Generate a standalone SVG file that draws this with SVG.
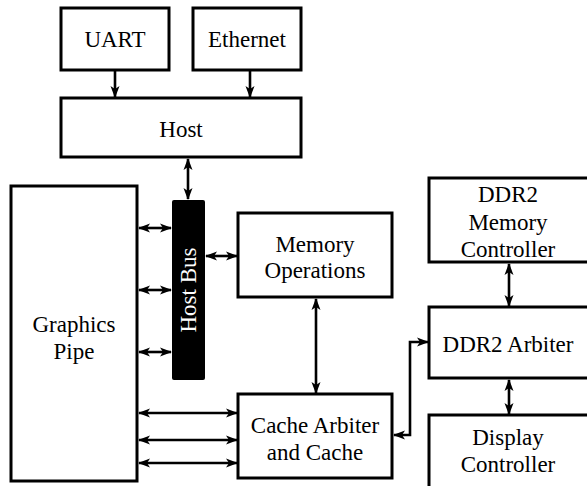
<svg xmlns="http://www.w3.org/2000/svg" width="587" height="486" viewBox="0 0 587 486">
<defs>
<marker id="ah" viewBox="0 0 12 10" refX="11" refY="5" markerWidth="12" markerHeight="10" markerUnits="userSpaceOnUse" orient="auto-start-reverse">
<path d="M0,0.5 L12,5 L0,9.5 L3,5 Z" fill="#000"/>
</marker>
<style>
.box{fill:#fff;stroke:#000;stroke-width:3}
text{font-family:'Liberation Serif','Times New Roman',serif;font-size:23px;fill:#000;text-anchor:middle}
.c{fill:none;stroke:#000;stroke-width:2.6;marker-start:url(#ah);marker-end:url(#ah)}
.c1{fill:none;stroke:#000;stroke-width:2.6;marker-end:url(#ah)}
</style>
</defs>
<rect width="587" height="486" fill="#fff"/>
<g id="uart"><rect class="box" x="61" y="8" width="108" height="62"/><text x="115" y="47">UART</text></g>
<g id="ethernet"><rect class="box" x="193" y="8" width="108" height="62"/><text x="247" y="47">Ethernet</text></g>
<g id="host"><rect class="box" x="61" y="98" width="240" height="59"/><text x="181" y="137">Host</text></g>
<g id="graphics-pipe"><rect class="box" x="11" y="186" width="126" height="295"/><text x="74" y="332">Graphics</text><text x="74" y="359">Pipe</text></g>
<g id="host-bus"><rect x="172" y="200" width="33" height="180" rx="2" fill="#000"/><text x="196" y="290" style="fill:#fff" transform="rotate(-90 196 290)">Host Bus</text></g>
<g id="memory-operations"><rect class="box" x="238" y="213" width="154" height="84"/><text x="315" y="252">Memory</text><text x="315" y="278">Operations</text></g>
<g id="cache"><rect class="box" x="238" y="394" width="154" height="84"/><text x="315" y="433">Cache Arbiter</text><text x="315" y="460">and Cache</text></g>
<g id="ddr2-memory-controller"><rect class="box" x="429" y="178" width="162" height="84"/><text x="508" y="202">DDR2</text><text x="508" y="230">Memory</text><text x="508" y="257">Controller</text></g>
<g id="ddr2-arbiter"><rect class="box" x="429" y="307" width="162" height="71"/><text x="508" y="352">DDR2 Arbiter</text></g>
<g id="display-controller"><rect class="box" x="429" y="415" width="162" height="80"/><text x="508" y="445">Display</text><text x="508" y="472">Controller</text></g>
<g id="connectors">
<path class="c1" d="M115,70 V97"/>
<path class="c1" d="M250,70 V97"/>
<path class="c" d="M188,159 V199"/>
<path class="c" d="M139,228 H171"/>
<path class="c" d="M139,290 H171"/>
<path class="c" d="M139,352 H171"/>
<path class="c" d="M206,256 H237"/>
<path class="c" d="M316,299 V393"/>
<path class="c" d="M139,413 H237"/>
<path class="c" d="M139,440 H237"/>
<path class="c" d="M139,463 H237"/>
<path class="c" d="M394,435 H410 V342 H428"/>
<path class="c" d="M509,264 V306"/>
<path class="c" d="M509,380 V414"/>
</g>
</svg>
